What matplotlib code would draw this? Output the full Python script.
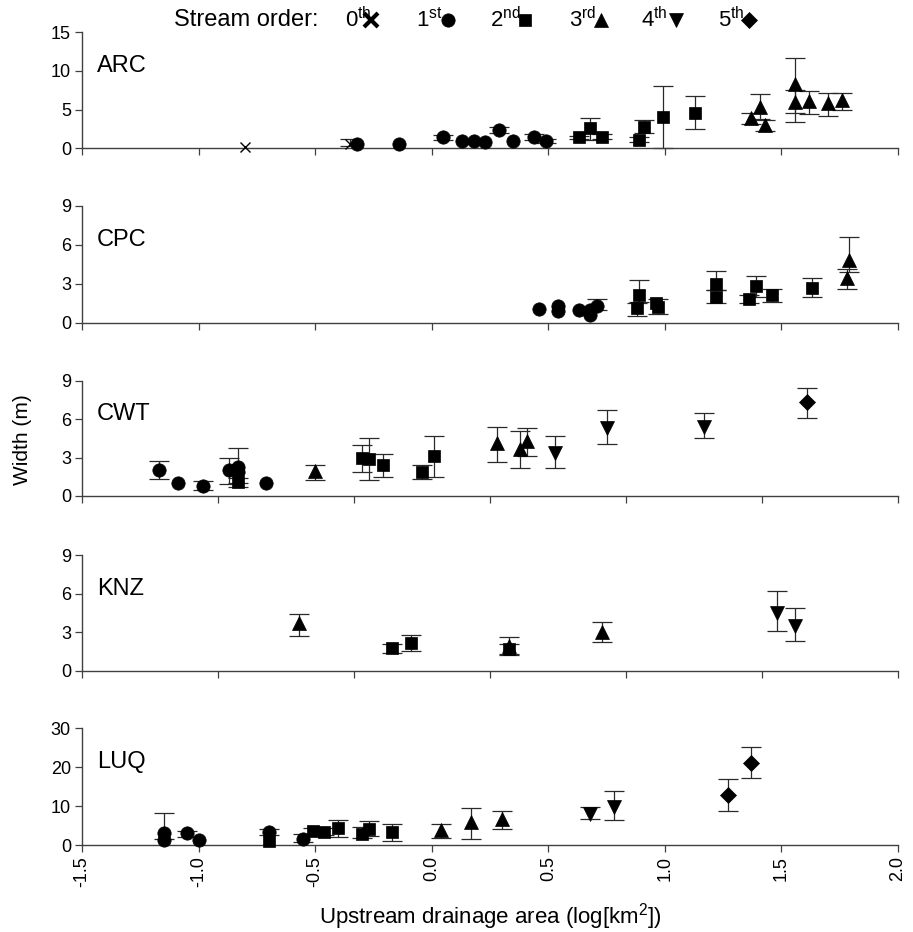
import numpy as np
import matplotlib.pyplot as plt
from matplotlib.lines import Line2D

plt.rcParams['font.family'] = ['Liberation Sans', 'DejaVu Sans']
plt.rcParams['mathtext.fontset'] = 'custom'
plt.rcParams['mathtext.rm'] = 'Liberation Sans'
plt.rcParams['mathtext.it'] = 'Liberation Sans:italic'

# ARC
arc_x = [-0.80, -0.35, -0.32, -0.14, 0.05, 0.13, 0.18, 0.23, 0.29, 0.35, 0.44, 0.49,
         0.63, 0.68, 0.73, 0.89, 0.91, 0.99, 1.13, 1.37, 1.41, 1.43, 1.56, 1.56, 1.62, 1.70, 1.76]
arc_y = [0.2, 0.6, 0.5, 0.6, 1.4, 1.0, 0.95, 0.8, 2.4, 0.9, 1.5, 0.95,
         1.4, 2.6, 1.5, 1.1, 2.7, 4.1, 4.6, 3.95, 5.4, 3.0, 8.3, 6.0, 6.1, 5.9, 6.2]
arc_lo = [None, 0.3, None, None, 1.1, None, None, None, 2.0, None, 1.1, 0.7,
          1.2, 1.1, 1.2, 0.8, 2.0, 0.1, 2.5, 3.1, 3.8, 2.3, 4.5, 3.4, 4.4, 4.2, 4.9]
arc_hi = [None, 1.2, None, None, 1.7, None, None, None, 2.8, None, 1.9, 1.2,
          1.6, 3.9, 1.8, 1.4, 3.7, 8.1, 6.8, 4.6, 7.0, 3.6, 11.7, 7.5, 7.4, 7.1, 7.1]
arc_order = [0, 0, 1, 1, 1, 1, 1, 1, 1, 1, 1, 1,
             2, 2, 2, 2, 2, 2, 2, 3, 3, 3, 3, 3, 3, 3, 3]

# CPC
cpc_x = [0.46, 0.54, 0.54, 0.63, 0.68, 0.68, 0.71, 0.88, 0.89, 0.96, 0.97,
         1.22, 1.22, 1.36, 1.39, 1.46, 1.63, 1.78, 1.79]
cpc_y = [1.03, 1.3, 0.9, 0.97, 0.6, 0.95, 1.3, 1.1, 2.1, 1.5, 1.2,
         3.0, 2.0, 1.8, 2.85, 2.1, 2.65, 3.4, 4.8]
cpc_lo = [None, None, None, None, None, None, 1.0, 0.5, 1.6, None, 0.7,
          2.5, 1.5, 1.5, 2.0, 1.6, 2.0, 2.6, 3.9]
cpc_hi = [None, None, None, None, None, None, 1.8, 1.5, 3.3, None, 1.8,
          4.0, 2.5, 2.1, 3.6, 2.6, 3.4, 4.1, 6.6]
cpc_order = [1, 1, 1, 1, 1, 1, 1, 2, 2, 2, 2, 2, 2, 2, 2, 2, 2, 3, 3]

# CWT
cwt_x = [-1.17, -1.09, -0.98, -0.87, -0.83, -0.83, -0.71, -0.83, -0.50, -0.30, -0.27,
         -0.21, -0.04, 0.01, 0.28, 0.38, 0.41, 0.53, 0.75, 1.17, 1.61]
cwt_y = [2.0, 1.05, 0.8, 2.0, 2.25, 1.85, 1.0, 1.1, 1.95, 3.0, 2.9,
         2.4, 1.85, 3.1, 4.15, 3.7, 4.3, 3.35, 5.3, 5.4, 7.3]
cwt_lo = [1.3, None, 0.5, 0.95, 1.0, None, None, 0.7, 1.25, 1.9, 1.25,
          1.5, 1.3, 1.5, 2.65, 2.2, 3.1, 2.2, 4.05, 4.5, 6.1]
cwt_hi = [2.7, None, 1.2, 3.0, 3.75, None, None, 1.4, 2.45, 4.0, 4.55,
          3.25, 2.4, 4.65, 5.4, 5.05, 5.3, 4.7, 6.7, 6.45, 8.4]
cwt_order = [1, 1, 1, 1, 1, 1, 1, 2, 3, 2, 2, 2, 2, 2, 3, 3, 3, 4, 4, 4, 5]

# KNZ
knz_x = [-0.57, -0.17, -0.09, 0.33, 0.33, 0.73, 1.48, 1.56]
knz_y = [3.7, 1.8, 2.15, 1.9, 1.7, 3.0, 4.5, 3.5]
knz_lo = [2.7, 1.4, 1.55, 1.3, 1.25, 2.2, 3.05, 2.3]
knz_hi = [4.4, 2.1, 2.75, 2.6, 2.1, 3.8, 6.2, 4.9]
knz_order = [3, 2, 2, 3, 2, 3, 4, 4]

# LUQ
luq_x = [-1.15, -1.15, -1.05, -1.0, -0.70, -0.70, -0.55, -0.51, -0.46, -0.40,
         -0.30, -0.27, -0.17, 0.04, 0.17, 0.30, 0.68, 0.78, 1.27, 1.37]
luq_y = [3.0, 1.3, 3.0, 1.4, 3.3, 1.0, 1.5, 3.7, 3.4, 4.3,
         2.8, 4.1, 3.3, 3.9, 5.8, 6.7, 8.0, 9.7, 12.8, 21.1]
luq_lo = [1.5, None, 2.0, None, 2.5, None, 0.8, 2.8, 2.6, 2.0,
          1.8, 2.2, 1.1, 1.7, 1.5, 4.1, 6.7, 6.4, 8.8, 17.1]
luq_hi = [8.1, None, 3.5, None, 4.2, None, 2.8, 4.3, 4.3, 6.4,
          4.6, 6.1, 5.4, 5.4, 9.5, 8.7, 9.7, 14.0, 16.9, 25.1]
luq_order = [1, 1, 1, 1, 1, 2, 1, 2, 2, 2, 2, 2, 2, 3, 3, 3, 4, 4, 5, 5]

panel_names = ['ARC', 'CPC', 'CWT', 'KNZ', 'LUQ']
panel_data = [(arc_x, arc_y, arc_lo, arc_hi, arc_order),
              (cpc_x, cpc_y, cpc_lo, cpc_hi, cpc_order),
              (cwt_x, cwt_y, cwt_lo, cwt_hi, cwt_order),
              (knz_x, knz_y, knz_lo, knz_hi, knz_order),
              (luq_x, luq_y, luq_lo, luq_hi, luq_order)]
panel_yticks = [[0, 5, 10, 15], [0, 3, 6, 9], [0, 3, 6, 9], [0, 3, 6, 9], [0, 10, 20, 30]]
x_ticks = [-1.5, -1.0, -0.5, 0.0, 0.5, 1.0, 1.5, 2.0]
order_labels = ['0$^{\\mathrm{th}}$', '1$^{\\mathrm{st}}$', '2$^{\\mathrm{nd}}$',
                '3$^{\\mathrm{rd}}$', '4$^{\\mathrm{th}}$', '5$^{\\mathrm{th}}$']

# marker style per stream order
markers = {0: ('x', 7), 1: ('o', 9.6), 2: ('s', 8.5), 3: ('^', 10.3), 4: ('v', 10.3), 5: ('D', 8.2)}
axcol = '#404040'

fig = plt.figure(figsize=(9.13, 9.32), dpi=100)
left, width = 82 / 913, 816 / 913
# (top, bottom) pixel rows of each panel
rows = [(32.3, 148.3), (205.7, 322.7), (380.7, 496.0), (555.0, 670.7), (728.3, 845.0)]

for i, (name, data) in enumerate(zip(panel_names, panel_data)):
    top, bot = rows[i]
    ax = fig.add_axes([left, 1 - bot / 932, width, (bot - top) / 932])
    xs, ys, lo, hi, order = [np.array(v, dtype=object) for v in data]
    xs = xs.astype(float)
    ys = ys.astype(float)
    has_err = np.array([l is not None for l in lo])
    if has_err.any():
        l = np.array(list(lo[has_err]), dtype=float)
        h = np.array(list(hi[has_err]), dtype=float)
        ax.errorbar(xs[has_err], ys[has_err], yerr=[ys[has_err] - l, h - ys[has_err]],
                    fmt='none', ecolor='#2a2a2a', elinewidth=0.9, capsize=7.5,
                    capthick=0.9, zorder=2, clip_on=False)
    for o in range(6):
        sel = order.astype(int) == o
        if not sel.any():
            continue
        m, ms = markers[o]
        ax.plot(xs[sel], ys[sel], linestyle='none', marker=m, markersize=ms,
                color='black', mew=1.0 if o == 0 else 0.5, zorder=3, clip_on=False)

    yt = panel_yticks[i]
    ax.set_ylim(yt[0], yt[-1])
    ax.set_yticks(yt)
    ax.set_xlim(-1.5, 2.0)
    if name in ('CWT', 'KNZ'):
        ax.set_xticks(np.linspace(-1.5, 2.0, 7))
    else:
        ax.set_xticks(x_ticks)
    if name == 'LUQ':
        ax.set_xticklabels(['%.1f' % t for t in x_ticks], rotation=90)
    else:
        ax.set_xticklabels([])
    for s in ('top', 'right'):
        ax.spines[s].set_visible(False)
    for s in ('left', 'bottom'):
        ax.spines[s].set_color(axcol)
        ax.spines[s].set_linewidth(1.0)
    ax.tick_params(direction='out', length=5, width=0.9, color=axcol,
                   labelsize=13, pad=3)
    ax.text(0.018, 0.71, name, transform=ax.transAxes, fontsize=17,
            va='center', ha='left')
    ax.patch.set_alpha(0)

fig.text(23 / 913, 1 - 440 / 932, 'Width (m)', rotation=90, fontsize=15,
         ha='center', va='center')
fig.text(0.5 * (82 + 898) / 913, 1 - 917 / 932, 'Upstream drainage area (log[km$^2$])',
         fontsize=16, ha='center', va='center')

# legend row
ly = 1 - 20 / 932
fig.text(174 / 913, ly, 'Stream order:', fontsize=17, ha='left', va='center')
lab_x = [345, 416, 490, 569, 641, 718]
mk_x = [371, 448, 525, 601, 676, 749]
for o in range(6):
    fig.text(lab_x[o] / 913, ly, order_labels[o], fontsize=16, ha='left', va='center')
    m, ms = markers[o]
    fig.add_artist(Line2D([mk_x[o] / 913], [ly], transform=fig.transFigure,
                          marker=m, markersize=(10 if o == 0 else ms),
                          mew=(3 if o == 0 else 0.5), color='black', linestyle='none'))

fig.savefig('out.png', dpi=100)
